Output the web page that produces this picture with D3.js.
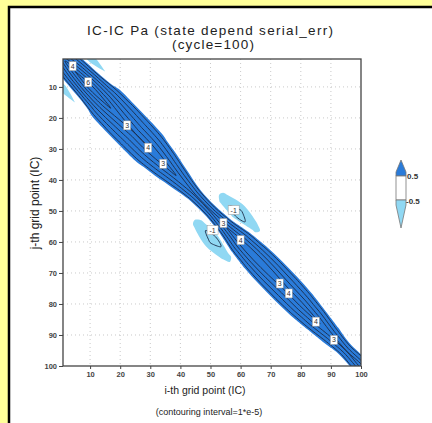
<!DOCTYPE html>
<html>
<head>
<meta charset="utf-8">
<script src="https://cdn.jsdelivr.net/npm/d3@7"></script>
<style>
  body { margin: 0; background: #ffff99; }
  svg { display: block; font-family: "Liberation Sans", Arial, sans-serif; }
</style>
</head>
<body>
<svg id="chart" width="432" height="423"></svg>
<script>
// Pa is symmetric and banded, so it is read off the picture along the diagonal:
// rows = position along the diagonal m=(i+j)/2, columns = offset d=|i-j|
const diagPos = [0, 5, 10, 15, 20, 25, 30, 35, 40, 45, 50, 55, 60, 65, 70, 75, 80, 85, 90, 95, 100]
const offsets = [0, 2, 4, 6, 8, 10, 12, 14]
// values in units of 1e-5
const paTable = [
  [4.5, 3.05, 1.59, 0.14, -0.3, -0.4, 0, 0],
  [6.0, 4.31, 2.61, 0.92, -0.6, -0.8, -0.3, 0],
  [6.8, 5.10, 3.40, 1.60, -0.2, -0.5, -0.2, 0],
  [6.3, 4.93, 3.57, 2.20, 0.84, 0, 0, 0],
  [5.5, 4.39, 3.28, 2.17, 1.06, 0, 0, 0],
  [5.0, 4.00, 3.00, 2.00, 1.00, 0, 0, 0],
  [5.0, 3.94, 2.88, 1.82, 0.76, 0, 0, 0],
  [4.5, 3.36, 2.21, 1.07, 0, 0, 0, 0],
  [3.8, 2.48, 1.16, 0, 0, 0, 0, 0],
  [3.2, 1.66, 0, 0, 0, 0, 0, 0],
  [3.3, 1.44, -0.2, -0.5, -0.65, -0.6, -0.3, 0],
  [4.0, 2.25, 0.5, -0.8, -1.4, -1.05, -0.75, -0.2],
  [4.8, 3.37, 1.93, 0.5, -0.6, -0.7, -0.4, 0],
  [5.0, 3.71, 2.43, 1.14, 0, 0, 0, 0],
  [4.8, 3.65, 2.51, 1.36, 0.21, 0, 0, 0],
  [4.5, 3.43, 2.37, 1.30, 0.23, 0, 0, 0],
  [4.5, 3.36, 2.21, 1.07, 0, 0, 0, 0],
  [4.2, 2.97, 1.73, 0.5, 0, 0, 0, 0],
  [3.5, 2.17, 0.83, 0, 0, 0, 0, 0],
  [3.0, 1.57, 0.14, 0, 0, 0, 0, 0],
  [3.5, 2.00, 0.5, 0, 0, 0, 0, 0]
]
const shadeHigh = 0.5
const shadeLow = -0.5
const lineLevels = [1, 2, 3, 4, 5, 6, 7]
const negLineLevels = [1]   // i.e. the -1 contour
const tickVals = [10, 20, 30, 40, 50, 60, 70, 80, 90, 100]
// contour labels (i, j, text)
const labelI = [4.2, 9.4, 22.3, 29.3, 34.3, 54.3, 60, 57.7, 50.7, 73, 76, 85, 91]
const labelJ = [3.3, 8.5, 22.4, 29.6, 34.8, 53.9, 59.4, 49.7, 56.2, 73.4, 76.6, 85.7, 91.6]
const labelText = ["4", "6", "3", "4", "3", "3", "4", "-1", "-1", "3", "4", "4", "3"]

const svg = d3.select("#chart")
const darkBlue = "#2a7bd9"
const lightBlue = "#90d8f3"
const lineColor = "#1b2a46"

// white panel with black frame (runs off the right and bottom)
svg.append("rect").attr("x", 9).attr("y", 7).attr("width", 500).attr("height", 500)
  .attr("fill", "white").attr("stroke", "black").attr("stroke-width", 2.5)

const x = d3.scaleLinear().domain([1, 100]).range([63, 361])
const y = d3.scaleLinear().domain([1, 100]).range([59, 366])

// dotted grid
const grid = svg.append("g").attr("stroke", "#bbb").attr("stroke-width", 0.8).attr("stroke-dasharray", "1,3")
tickVals.filter(t => t < 100).forEach(t => {
  grid.append("line").attr("x1", x(t)).attr("x2", x(t)).attr("y1", y(1)).attr("y2", y(100))
  grid.append("line").attr("y1", y(t)).attr("y2", y(t)).attr("x1", x(1)).attr("x2", x(100))
})

// build the (m, d) grid, mirrored in d
const dVals = offsets.slice(1).reverse().map(d => -d).concat(offsets)
const nx = diagPos.length
const ny = dVals.length
const values = new Array(nx * ny)
for (let r = 0; r < ny; r++) {
  for (let k = 0; k < nx; k++) {
    values[r * nx + k] = paTable[k][offsets.indexOf(Math.abs(dVals[r]))]
  }
}
const negValues = values.map(v => -v)

const mOf = d3.scaleLinear().domain([0, nx - 1]).range([diagPos[0], diagPos[nx - 1]])
const dOf = d3.scaleLinear().domain([0, ny - 1]).range([dVals[0], dVals[ny - 1]])
function toPx(p) {
  const m = mOf(p[0] - 0.5), d = dOf(p[1] - 0.5)
  return [x(m + d / 2), y(m - d / 2)]
}
const ringLine = d3.line().curve(d3.curveCatmullRomClosed.alpha(0.5))
function geomPath(g) {
  return g.coordinates.map(poly => poly.map(ring => ringLine(ring.slice(0, -1).map(toPx))).join("")).join("")
}

svg.append("clipPath").attr("id", "plotclip").append("rect")
  .attr("x", x(1)).attr("y", y(1)).attr("width", x(100) - x(1)).attr("height", y(100) - y(1))
const plot = svg.append("g").attr("clip-path", "url(#plotclip)")

const contours = d3.contours().size([nx, ny])
plot.append("path").attr("d", geomPath(contours.contour(negValues, -shadeLow)))
  .attr("fill", lightBlue).attr("fill-rule", "evenodd")
plot.append("path").attr("d", geomPath(contours.contour(values, shadeHigh)))
  .attr("fill", darkBlue).attr("fill-rule", "evenodd")

lineLevels.forEach(lv => {
  plot.append("path").attr("d", geomPath(contours.contour(values, lv)))
    .attr("fill", "none").attr("stroke", lineColor).attr("stroke-width", 0.9)
})
negLineLevels.forEach(lv => {
  plot.append("path").attr("d", geomPath(contours.contour(negValues, lv)))
    .attr("fill", "none").attr("stroke", lineColor).attr("stroke-width", 0.9)
})

// contour labels
const labels = svg.append("g").attr("font-size", 7).attr("text-anchor", "middle")
labelText.forEach((t, n) => {
  const cx = x(labelI[n]), cy = y(labelJ[n])
  const w = t.length * 4 + 3
  labels.append("rect").attr("x", cx - w / 2).attr("y", cy - 4.5).attr("width", w).attr("height", 9)
    .attr("fill", "white").attr("stroke", "#999").attr("stroke-width", 0.5)
  labels.append("text").attr("x", cx).attr("y", cy + 2.5).attr("fill", "#333").text(t)
})

// plot frame
svg.append("rect").attr("x", x(1)).attr("y", y(1)).attr("width", x(100) - x(1)).attr("height", y(100) - y(1))
  .attr("fill", "none").attr("stroke", "#444").attr("stroke-width", 1.3)

// axes
const xAxis = svg.append("g").attr("transform", `translate(0,${y(100)})`)
  .call(d3.axisBottom(x).tickValues(tickVals).tickSize(3).tickPadding(3))
const yAxis = svg.append("g").attr("transform", `translate(${x(1)},0)`)
  .call(d3.axisLeft(y).tickValues(tickVals).tickSize(4).tickPadding(2))
;[xAxis, yAxis].forEach(a => {
  a.select(".domain").remove()
  a.selectAll("text").attr("font-size", 7.5).attr("font-weight", "bold").attr("fill", "#444")
    .attr("font-family", "Liberation Sans, Arial, sans-serif")
  a.selectAll("line").attr("stroke", "#444")
})

// titles
svg.append("text").attr("x", 210).attr("y", 35).attr("text-anchor", "middle")
  .attr("font-size", 13.5).attr("fill", "#222").attr("textLength", 246).text("IC-IC Pa (state depend serial_err)")
svg.append("text").attr("x", 213).attr("y", 49).attr("text-anchor", "middle")
  .attr("font-size", 13.5).attr("fill", "#222").attr("textLength", 82).text("(cycle=100)")
svg.append("text").attr("x", 205).attr("y", 394).attr("text-anchor", "middle")
  .attr("font-size", 10.5).attr("fill", "#222").text("i-th grid point (IC)")
svg.append("text").attr("x", 209).attr("y", 415).attr("text-anchor", "middle")
  .attr("font-size", 9).attr("fill", "#222").text("(contouring interval=1*e-5)")
svg.append("text").attr("transform", `translate(39,${203}) rotate(-90)`).attr("text-anchor", "middle")
  .attr("font-size", 12).attr("fill", "#222").text("j-th grid point (IC)")

// colour bar
const cb = svg.append("g").attr("stroke", "#777").attr("stroke-width", 0.8)
const cbx = 396, cbw = 10
cb.append("path").attr("d", `M${cbx + cbw / 2},160 L${cbx + cbw},172 L${cbx + cbw},176 L${cbx},176 L${cbx},172 Z`).attr("fill", darkBlue)
cb.append("rect").attr("x", cbx).attr("y", 176).attr("width", cbw).attr("height", 24).attr("fill", "white")
cb.append("path").attr("d", `M${cbx},200 L${cbx + cbw},200 L${cbx + cbw},205 L${cbx + cbw / 2},228 L${cbx},205 Z`).attr("fill", lightBlue)
svg.append("text").attr("x", 407).attr("y", 179).attr("font-size", 8).attr("font-weight", "bold").attr("fill", "#333").text("0.5")
svg.append("text").attr("x", 406).attr("y", 204).attr("font-size", 8).attr("font-weight", "bold").attr("fill", "#333").text("-0.5")
</script>
</body>
</html>
